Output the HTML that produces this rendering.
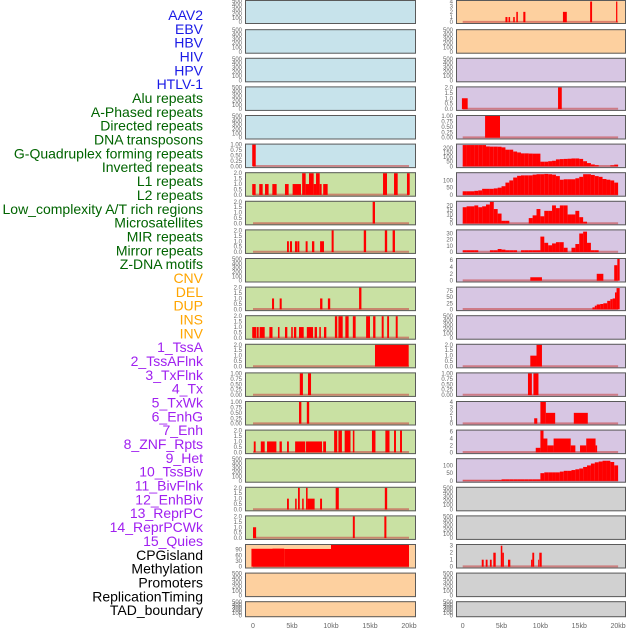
<!DOCTYPE html>
<html><head><meta charset="utf-8"><style>
html,body{margin:0;padding:0;background:#fff;width:630px;height:630px;overflow:hidden}
svg{display:block;font-family:"Liberation Sans",sans-serif}
</style></head><body>
<svg id="chart" width="630" height="630" viewBox="0 0 630 630" xmlns="http://www.w3.org/2000/svg">
<g id="labels"></g>
<g id="panels"></g>
<g id="xaxes"></g>
</svg>
<script>
const NS="http://www.w3.org/2000/svg";
// ---- label data ----
const labelNames=["AAV2","EBV","HBV","HIV","HPV","HTLV-1","Alu repeats","A-Phased repeats","Directed repeats","DNA transposons","G-Quadruplex forming repeats","Inverted repeats","L1 repeats","L2 repeats","Low_complexity A/T rich regions","Microsatellites","MIR repeats","Mirror repeats","Z-DNA motifs","CNV","DEL","DUP","INS","INV","1_TssA","2_TssAFlnk","3_TxFlnk","4_Tx","5_TxWk","6_EnhG","7_Enh","8_ZNF_Rpts","9_Het","10_TssBiv","11_BivFlnk","12_EnhBiv","13_ReprPC","14_ReprPCWk","15_Quies","CPGisland","Methylation","Promoters","ReplicationTiming","TAD_boundary"];
const labelGroupSizes=[6,13,5,15,5];
const labelGroupColors=["#1a1ae6","#006400","#ffa500","#a020f0","#000000"];
const xTickKb=[0,5,10,15,20];
const xTickLabels=["0","5kb","10kb","15kb","20kb"];
// ---- tick sets ----
const tEmpty=[0,100,200,300,400,500];
const t1=[0,0.25,0.5,0.75,1]; const t1L=["0.00","0.25","0.50","0.75","1.00"];
const t2=[0,0.5,1,1.5,2]; const t2L=["0.0","0.5","1.0","1.5","2.0"];
// ---- left column bar data [startKb,endKb,value] ----
const L5=[[-0.1,0.35,1]];
const L6=[[-0.1,0.34,1],[0.8,1.24,1],[1.54,2.0,1],[2.48,3.03,1],[4.1,4.57,1],[5.08,6.15,1],[6.3,6.75,2],[6.75,7.18,1],[7.18,7.78,2],[7.78,8.08,1],[8.08,8.55,2],[8.55,8.8,1],[9.0,9.57,1],[16.67,17.18,2],[18.08,18.55,2],[19.74,20.09,2]];
const L7=[[15.34,15.64,2]];
const L8=[[4.36,4.6,1],[4.74,5.0,1],[5.38,5.64,1],[5.68,5.94,1],[6.75,7.0,1],[7.56,7.86,1],[8.6,9.1,1],[10.08,10.34,2],[14.2,14.5,2],[16.9,17.2,2],[17.9,18.2,2]];
const L10=[[2.44,2.7,1],[3.42,3.68,1],[8.6,8.9,1],[9.6,9.9,1],[13.6,13.9,2]];
const L11=[[-0.1,0.4,1],[0.47,0.73,1],[0.85,1.5,1],[2.1,2.5,1],[3.2,3.4,1],[4.1,4.4,1],[4.9,5.1,1],[5.25,5.55,1],[5.9,6.5,1],[6.9,7.7,1],[7.9,8.2,1],[8.5,8.7,1],[9.1,9.4,1],[10.5,10.8,2],[10.95,11.5,2],[11.84,12.26,2],[12.8,13.16,2],[14.5,15.0,2],[15.4,15.7,2],[16.5,16.75,2],[17.2,17.44,2],[18.3,18.55,2]];
const L12=[[15.64,19.96,2]];
const L13=[[6.0,6.4,1],[7.05,7.44,1]];
const L14=[[5.9,6.2,1],[6.9,7.2,1]];
const L15=[[0.1,0.34,1],[1.0,1.5,1],[1.8,3.0,1],[3.4,3.7,1],[4.36,4.6,1],[5.4,6.7,1],[6.8,8.85,1],[9.0,9.36,1],[10.4,10.8,2],[10.95,11.4,2],[11.75,12.5,2],[12.8,13.0,2],[15.25,15.7,2],[16.97,17.5,2],[18.08,18.33,2],[18.85,19.1,2]];
const L17=[[4.36,4.6,1],[5.4,5.6,1],[5.77,6.0,2],[6.3,6.5,1],[6.8,7.0,2],[7.0,7.9,1],[8.6,8.85,1],[10.6,11.0,2],[16.9,17.2,2]];
const L18=[[0,0.4,1],[12.8,13.05,2],[16.84,17.1,2]];
const L19=[[-0.2,2.5,95],[2.5,4.0,96],[4.0,10,94],[10,20,115]];
// ---- right column data ----
const R0=[[5.5,5.76,1],[5.9,6.1,1],[6.5,6.7,1],[6.9,7.1,2],[7.8,8.07,2],[12.9,13.4,2],[16.4,16.65,4],[19.74,19.9,4]];
const R3=[[-0.1,0.64,1],[12.27,12.75,2]];
const R4=[[2.88,4.8,1]];
const R5bins=[230,230,230,230,230,230,215,213,213,212,205,180,180,160,150,140,140,138,137,137,50,50,55,60,75,78,80,82,85,85,80,55,35,20,12,0,0,0,10,18];
const R6bins=[25,25,25,28,31,42,42,42,45,50,60,85,100,120,132,135,135,135,140,143,143,145,143,140,130,105,108,108,108,115,125,143,143,138,130,125,110,105,100,85];
const R7bins=[18,19,19,20,18,19,21,24,16,11,3,3,0,0,0,0,0,6,9,16,8,14,14,20,17,20,20,10,10,14,7,2,0,0,0,0,0,0,0,0];
const R8bins=[3,3,3,3,0,0,0,3,3,5,4,3,3,3,0,3,3,3,3,3,25,15,11,14,16,16,7,0,7,13,30,33,15,3,3,0,0,0,0,0];
const R9=[[8.7,10.2,1],[17.25,18.1,2],[19.5,19.9,4.5],[19.9,20.2,6.3]];
const R10=[[16.7,17.0,8],[17.0,17.25,15],[17.25,17.7,20],[17.7,18.1,22],[18.1,18.6,25],[18.6,19.0,35],[19.0,19.3,42],[19.3,19.6,45],[19.6,19.8,70],[19.8,20.2,88]];
const R12=[[8.7,9.5,1],[9.5,10.2,2]];
const R13=[[8.4,8.9,1],[9.1,9.75,1]];
const R14=[[9.2,9.6,1],[10,10.7,4],[10.7,11.9,2],[14.3,16.1,2]];
const R15=[[9.4,10,1.3],[10,10.4,6.3],[10.4,10.9,4],[10.9,11.7,2],[11.7,13.9,4],[13.9,14.5,2],[15.1,15.9,2],[15.9,17.1,4],[17.1,17.3,2]];
const R16bins=[2,2,2,2,2,2,2,5,5,5,10,10,10,10,10,10,10,10,10,10,50,55,55,55,55,60,65,65,70,75,80,90,100,112,120,125,130,130,122,100];
const R19=[[2.45,2.7,1],[2.96,3.2,1],[3.5,3.73,1],[3.94,4.25,2],[4.9,5.1,3],[5.1,5.3,2],[5.83,6.13,1],[8.8,8.96,1],[8.96,9.2,2],[9.7,9.8,1],[9.86,10.17,2]];

function binsToBars(b){const out=[];b.forEach((v,i)=>{if(v>0)out.push([i*0.5,i*0.5+0.5,v]);});return out;}

const cBlue="#c7e3eb",cGreen="#c9e1a3",cOrange="#fdd09f",cPurple="#d7c6e3",cGray="#d1d1d1";
function E(){return {bars:null,ymax:500,ticks:tEmpty,tl:null};}
const leftPanels=[E(),E(),E(),E(),E(),
 {bars:L5,ymax:1,ticks:t1,tl:t1L},{bars:L6,ymax:2,ticks:t2,tl:t2L},{bars:L7,ymax:2,ticks:t2,tl:t2L},{bars:L8,ymax:2,ticks:t2,tl:t2L},E(),
 {bars:L10,ymax:2,ticks:t2,tl:t2L},{bars:L11,ymax:2,ticks:t2,tl:t2L},{bars:L12,ymax:2,ticks:t2,tl:t2L},{bars:L13,ymax:1,ticks:t1,tl:t1L},{bars:L14,ymax:1,ticks:t1,tl:t1L},
 {bars:L15,ymax:2,ticks:t2,tl:t2L},E(),{bars:L17,ymax:2,ticks:t2,tl:t2L},{bars:L18,ymax:2,ticks:t2,tl:t2L},{bars:L19,ymax:115,ticks:[0,30,60,90],tl:null},E(),E()];
const leftColors=[cBlue,cBlue,cBlue,cBlue,cBlue,cBlue,cGreen,cGreen,cGreen,cGreen,cGreen,cGreen,cGreen,cGreen,cGreen,cGreen,cGreen,cGreen,cGreen,cOrange,cOrange,cOrange];
const rightPanels=[{bars:R0,ymax:4.1,ticks:[0,1,2,3,4],tl:null},E(),E(),{bars:R3,ymax:2,ticks:t2,tl:t2L},{bars:R4,ymax:1,ticks:t1,tl:t1L},
 {bars:binsToBars(R5bins),ymax:235,ticks:[0,50,100,150,200],tl:null},{bars:binsToBars(R6bins),ymax:150,ticks:[0,50,100],tl:null},
 {bars:binsToBars(R7bins),ymax:24,ticks:[0,5,10,15,20],tl:null},{bars:binsToBars(R8bins),ymax:35,ticks:[0,10,20,30],tl:null},
 {bars:R9,ymax:6.3,ticks:[0,2,4,6],tl:null},{bars:R10,ymax:90,ticks:[0,25,50,75],tl:null},E(),
 {bars:R12,ymax:2,ticks:t2,tl:t2L},{bars:R13,ymax:1,ticks:t1,tl:t1L},{bars:R14,ymax:4,ticks:[0,1,2,3,4],tl:null},
 {bars:R15,ymax:6.3,ticks:[0,2,4,6],tl:null},{bars:binsToBars(R16bins),ymax:140,ticks:[0,50,100],tl:null},E(),E(),
 {bars:R19,ymax:3.1,ticks:[0,1,2,3],tl:null},E(),E()];
const rightColors=[cOrange,cOrange,cPurple,cPurple,cPurple,cPurple,cPurple,cPurple,cPurple,cPurple,cPurple,cPurple,cPurple,cPurple,cPurple,cPurple,cPurple,cGray,cGray,cGray,cGray,cGray];

function mk(tag,attrs,parent){const e=document.createElementNS(NS,tag);for(const k in attrs)e.setAttribute(k,attrs[k]);parent.appendChild(e);return e;}

// labels
const lg=document.getElementById('labels');
let li=0;
labelGroupSizes.forEach((n,g)=>{for(let j=0;j<n;j++){const name=labelNames[li];
 const t=mk('text',{x:203,y:15+li*13.84+5,'text-anchor':'end','font-size':'14',fill:labelGroupColors[g]},lg);
 
 
 t.textContent=name;li++;}});

const cols=[{x0:245,x1:416,xz:253,pk:7.8,tickX:242,panels:leftPanels,colors:leftColors,side:'left'},
            {x0:456,x1:626,xz:462.7,pk:7.77,tickX:453,panels:rightPanels,colors:rightColors,side:'right'}];
const pg=document.getElementById('panels');
const defs=mk('defs',{},pg);
cols.forEach(col=>{
 const xs=kb=>col.xz+kb*col.pk;
 col.panels.forEach((p,k)=>{
  const top=k===0?0:0.6+28.6*k; const h=k===21?16:(k===0?24:24.5);
  const g=mk('g',{},pg);
  
  
  mk('rect',{x:col.x0,y:top,width:col.x1-col.x0,height:h,fill:col.colors[k]},g);
  const y0=top+h-1.8, yt=top+1;
  const ys=v=>y0-(v/p.ymax)*(y0-yt);
  const cid='clip-'+col.side+k;
  const cp=mk('clipPath',{id:cid},defs);
  mk('rect',{x:col.x0,y:top,width:col.x1-col.x0,height:h},cp);
  if(p.bars){
   mk('line',{x1:xs(0),x2:xs(20),y1:y0-0.3,y2:y0-0.3,stroke:'#c84a4a','stroke-opacity':'0.6','stroke-width':'2'},g);
   const bg=mk('g',{'clip-path':'url(#'+cid+')'},g);
   p.bars.forEach((b,i)=>{
    const r=mk('rect',{x:xs(b[0]),y:ys(b[2]),width:Math.max(0.8,xs(b[1])-xs(b[0])),height:y0-ys(b[2]),fill:'#ff0000'},bg);
    
    
   });
  }
  mk('rect',{x:col.x0+0.5,y:top+0.5,width:col.x1-col.x0-1,height:h-1,fill:'none',stroke:'#5a5a5a','stroke-width':'1'},g);
  p.ticks.forEach((tv,i)=>{
   const t=mk('text',{x:col.tickX,y:ys(tv)+2,'text-anchor':'end','font-size':'6',fill:'#666'},g);
   
   
   t.textContent=p.tl?p.tl[i]:String(tv);
  });
 });
 const xg=document.getElementById('xaxes');
 xTickKb.forEach((kb,i)=>{
  const t=mk('text',{x:xs(kb),y:628,'text-anchor':'middle','font-size':'7',fill:'#666'},xg);
  
  
  t.textContent=xTickLabels[i];
 });
});
</script>
</body></html>
